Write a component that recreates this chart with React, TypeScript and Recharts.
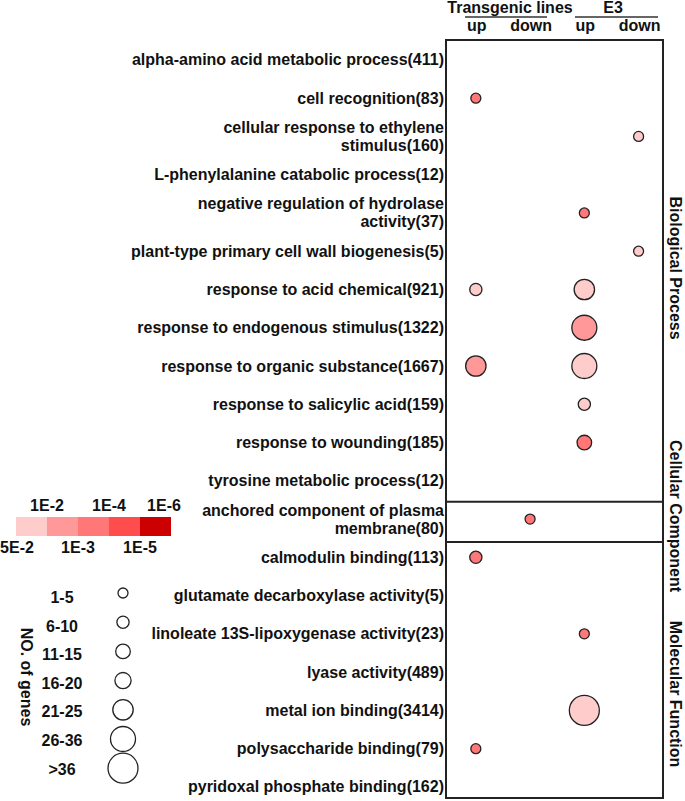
import { ReferenceArea, ReferenceLine, Scatter, ScatterChart, XAxis, YAxis } from "recharts"

const terms = [
    "alpha-amino acid metabolic process(411)",
    "cell recognition(83)",
    "cellular response to ethylene\nstimulus(160)",
    "L-phenylalanine catabolic process(12)",
    "negative regulation of hydrolase\nactivity(37)",
    "plant-type primary cell wall biogenesis(5)",
    "response to acid chemical(921)",
    "response to endogenous stimulus(1322)",
    "response to organic substance(1667)",
    "response to salicylic acid(159)",
    "response to wounding(185)",
    "tyrosine metabolic process(12)",
    "anchored component of plasma\nmembrane(80)",
    "calmodulin binding(113)",
    "glutamate decarboxylase activity(5)",
    "linoleate 13S-lipoxygenase activity(23)",
    "lyase activity(489)",
    "metal ion binding(3414)",
    "polysaccharide binding(79)",
    "pyridoxal phosphate binding(162)",
]

const columns = ["up", "down", "up", "down"]
const groups = ["Transgenic lines", "E3"]
const categories = ["Biological Process", "Cellular Component", "Molecular Function"]

// term index, gene-count class (index into geneClasses), p-value class (index into pColors)
const transgenicUp = [
    { term: 1, genes: 0, p: 2 },
    { term: 6, genes: 1, p: 0 },
    { term: 8, genes: 4, p: 1 },
    { term: 13, genes: 1, p: 2 },
    { term: 18, genes: 0, p: 2 },
]
const transgenicDown = [
    { term: 12, genes: 0, p: 2 },
]
const e3Up = [
    { term: 4, genes: 0, p: 2 },
    { term: 6, genes: 4, p: 0 },
    { term: 7, genes: 5, p: 1 },
    { term: 8, genes: 5, p: 0 },
    { term: 9, genes: 1, p: 0 },
    { term: 10, genes: 2, p: 2 },
    { term: 15, genes: 0, p: 2 },
    { term: 17, genes: 6, p: 0 },
]
const e3Down = [
    { term: 2, genes: 0, p: 0 },
    { term: 5, genes: 0, p: 0 },
]

const geneClasses = ["1-5", "6-10", "11-15", "16-20", "21-25", "26-36", ">36"]
const pColors = ["#ffcccc", "#ff9999", "#ff7777", "#ff4d4d", "#cc0000"]
const pTicks = ["5E-2", "1E-2", "1E-3", "1E-4", "1E-5", "1E-6"]

const radius = [5, 6.1, 7.3, 8.1, 10.2, 12.5, 15]
const font = "'Liberation Sans', Arial, sans-serif"
const ink = "#111"

const series = [transgenicUp, transgenicDown, e3Up, e3Down].map((list, col) =>
    list.map(d => ({ col, row: d.term, genes: d.genes, p: d.p }))
)

const Bubble = (props: any) => {
    const { cx, cy, payload } = props
    if (cx == null || cy == null) return null
    return <circle cx={cx} cy={cy} r={radius[payload.genes]} fill={pColors[payload.p]} stroke="#222" strokeWidth={1.3} />
}

const TermTick = (props: any) => {
    const { x, y, payload } = props
    const lines = terms[payload.value].split("\n")
    return (
        <text x={x} y={y} textAnchor="end" fontFamily={font} fontWeight={700} fontSize={16} fill={ink}>
            {lines.map((l, i) => (
                <tspan key={i} x={x} y={y + 5.5 + (i - (lines.length - 1) / 2) * 18}>{l}</tspan>
            ))}
        </text>
    )
}

const ColumnTick = (props: any) => {
    const { x, payload } = props
    return (
        <text x={x + 1} y={31} textAnchor="middle" fontFamily={font} fontWeight={700} fontSize={16} fill={ink}>
            {columns[payload.value]}
        </text>
    )
}

const txt = { fontFamily: font, fontWeight: 700, fontSize: 16, fill: ink }

export default function App() {
    return (
        <div style={{ position: "absolute", left: 0, top: 0, background: "#fff" }}>
            <ScatterChart width={685} height={801} margin={{ top: 26, right: 22, bottom: 3, left: 0 }}>
                <XAxis type="number" dataKey="col" orientation="top" domain={[-0.55, 3.45]} ticks={[0, 1, 2, 3]}
                    height={14} axisLine={false} tickLine={false} tick={<ColumnTick />} />
                <YAxis type="number" dataKey="row" domain={[-0.52, 19.29]} reversed width={446}
                    ticks={terms.map((_, i) => i)} interval={0} axisLine={false} tickLine={false}
                    tickSize={0} tickMargin={2} tick={<TermTick />} />
                <ReferenceArea x1={-0.55} x2={3.45} y1={-0.52} y2={19.29} fill="none" fillOpacity={0} stroke="#222" strokeWidth={2} />
                <ReferenceLine y={11.55} stroke="#222" strokeWidth={2} />
                <ReferenceLine y={12.6} stroke="#222" strokeWidth={2} />
                {series.map((data, i) => (
                    <Scatter key={i} data={data} shape={<Bubble />} isAnimationActive={false} />
                ))}

                {/* column group headers */}
                <text x={510} y={13} textAnchor="middle" style={txt}>{groups[0]}</text>
                <text x={613} y={13} textAnchor="middle" style={txt}>{groups[1]}</text>
                <line x1={465} x2={547} y1={17} y2={17} stroke="#333" strokeWidth={1.3} />
                <line x1={575} x2={658} y1={17} y2={17} stroke="#333" strokeWidth={1.3} />

                {/* category labels on the right */}
                <text transform="translate(670,268) rotate(90)" textAnchor="middle" style={txt}>{categories[0]}</text>
                <text transform="translate(670,516) rotate(90)" textAnchor="middle" style={txt}>{categories[1]}</text>
                <text transform="translate(670,694) rotate(90)" textAnchor="middle" style={txt}>{categories[2]}</text>

                {/* p-value colour legend */}
                {pColors.map((c, i) => (
                    <rect key={c} x={16 + 31 * i} y={517} width={31} height={19} fill={c} />
                ))}
                {pTicks.map((t, i) => (
                    <text key={t} x={Math.min(Math.max(16 + 31 * i, 17), 164)} y={i % 2 ? 511 : 553}
                        textAnchor="middle" style={txt}>{t}</text>
                ))}

                {/* gene count size legend */}
                <text transform="translate(21,677) rotate(90)" textAnchor="middle" style={txt}>NO. of genes</text>
                {geneClasses.map((g, i) => (
                    <g key={g}>
                        <circle cx={123} cy={593 + i * 29.2} r={radius[i]} fill="#fff" stroke="#222" strokeWidth={1.3} />
                        <text x={62} y={598 + i * 28.6 + 5} textAnchor="middle" style={txt}>{g}</text>
                    </g>
                ))}
            </ScatterChart>
        </div>
    )
}
